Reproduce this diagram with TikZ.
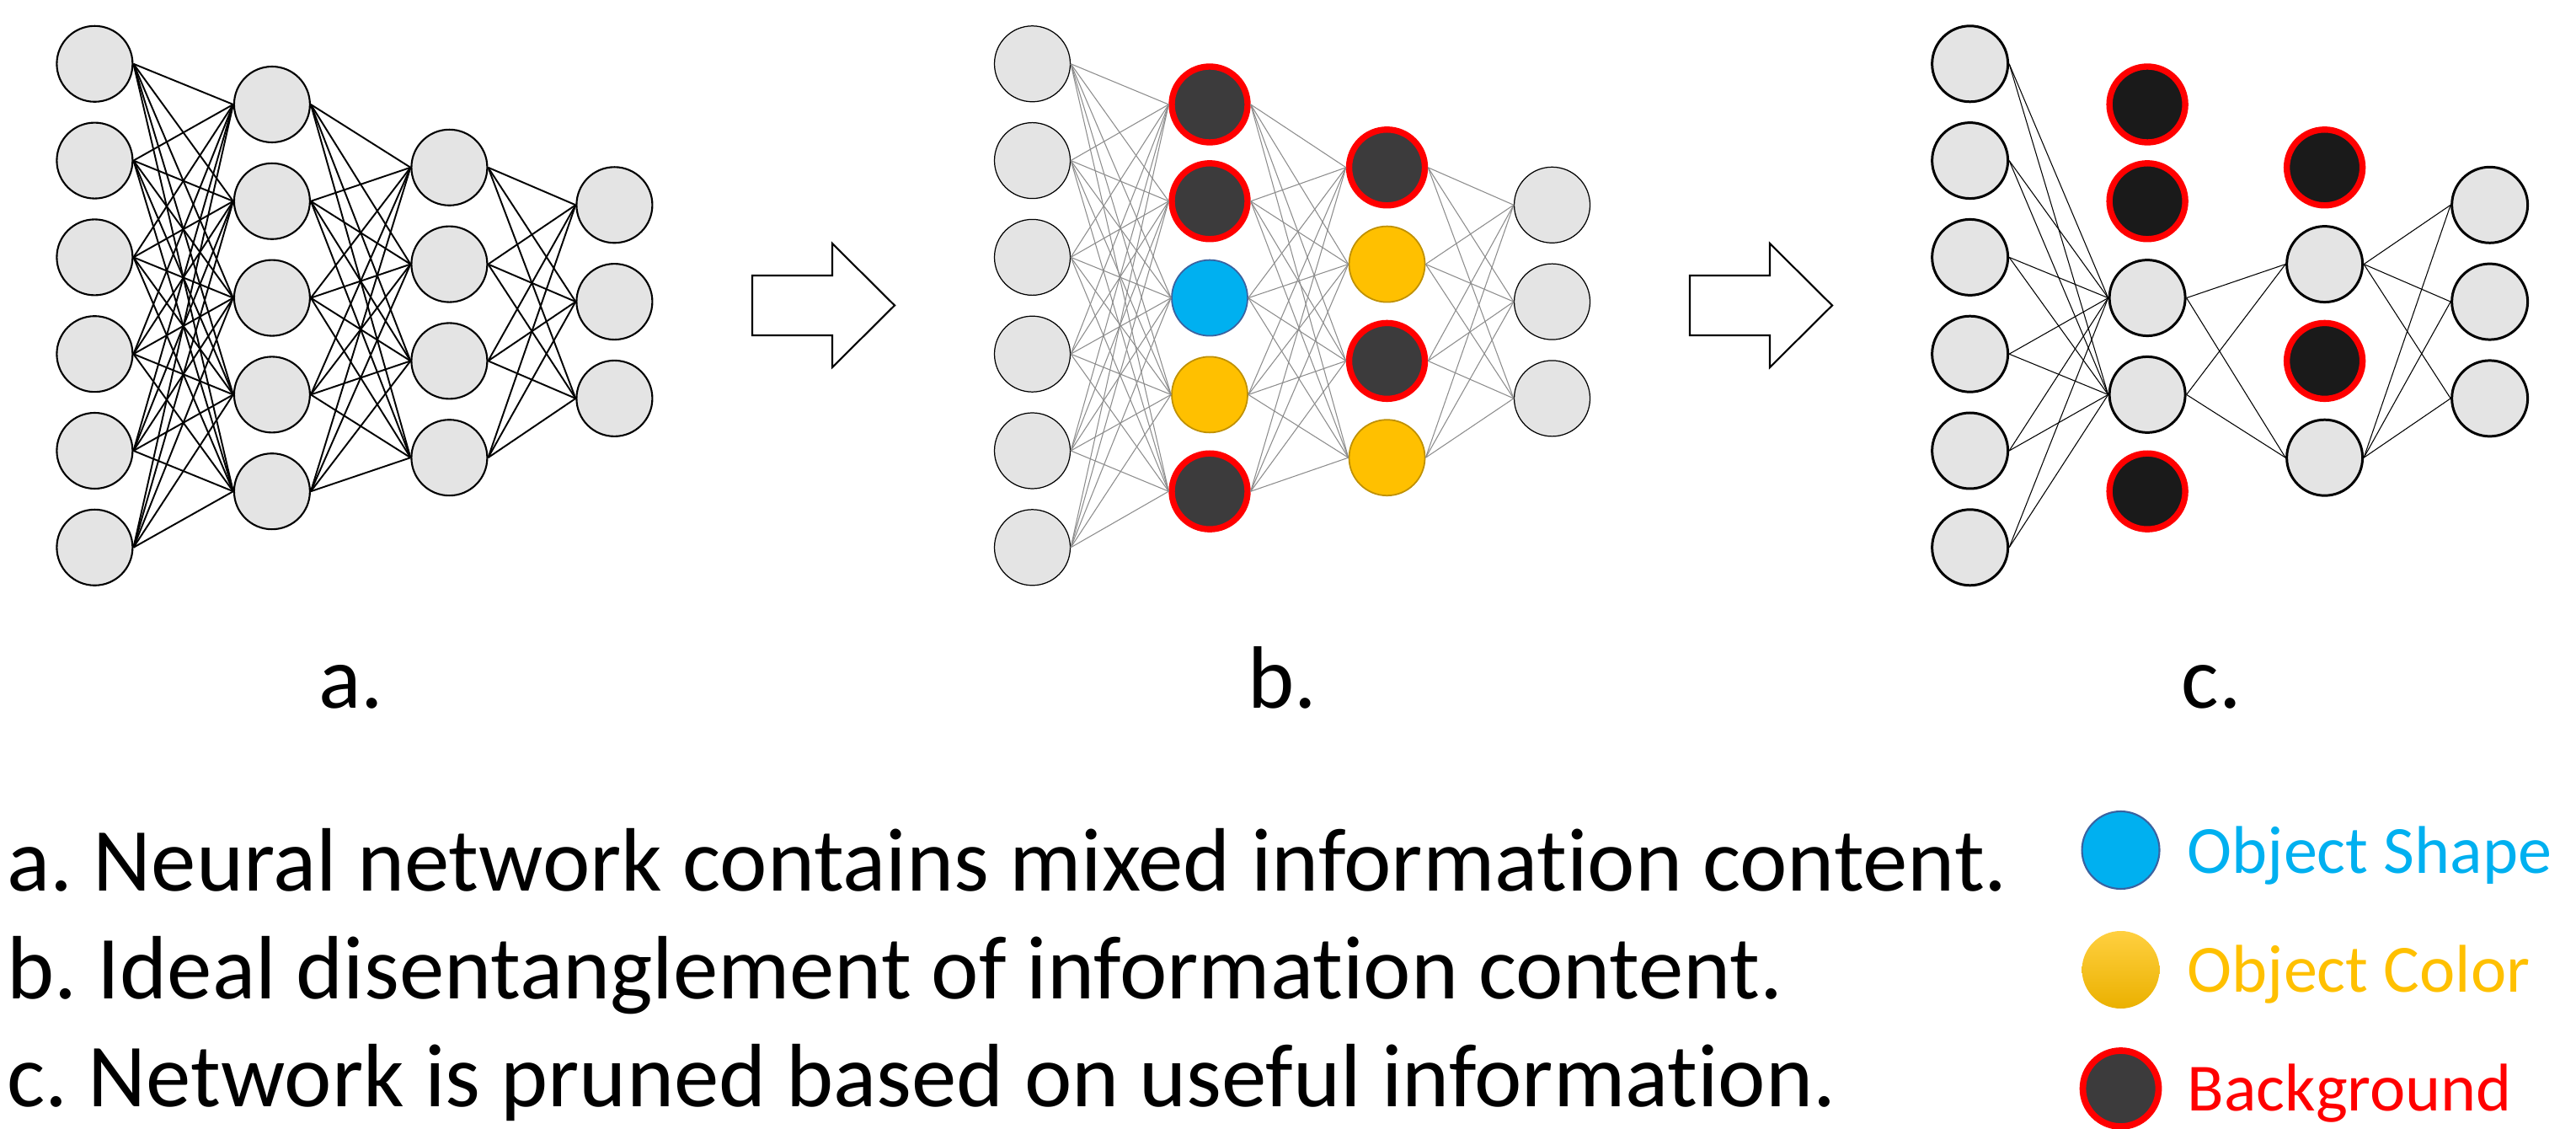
\documentclass[tikz,border=0pt]{standalone}
\usepackage{fontspec}
\setmainfont[Ligatures=NoCommon]{Carlito}
\usepackage{tikz}
\usetikzlibrary{shapes}
\frenchspacing

\definecolor{nfill}{HTML}{E4E4E4}
\definecolor{bgdark}{HTML}{3C3B3C}
\definecolor{bgblack}{HTML}{1A1A1A}
\definecolor{bgred}{HTML}{FF0000}
\definecolor{objblue}{HTML}{00B0F0}
\definecolor{objblueline}{HTML}{3A62A0}
\definecolor{objyellow}{HTML}{FFC000}
\definecolor{objyellowline}{HTML}{BF9000}
\definecolor{linkgray}{HTML}{8C8C8C}

\tikzset{
	neuron/.style={circle,draw=black,fill=nfill,minimum size=0.9cm,inner sep=0pt,line width=0.6pt},
	thinneuron/.style={neuron,line width=0.35pt},
	boldneuron/.style={neuron,line width=0.85pt},
	bgneuron/.style={circle,draw=bgred,fill=bgdark,minimum size=0.9cm,inner sep=0pt,line width=2.1pt},
	bgblackneuron/.style={bgneuron,fill=bgblack},
	shapeneuron/.style={circle,draw=objblueline,fill=objblue,minimum size=0.9cm,inner sep=0pt,line width=0.5pt},
	colneuron/.style={circle,draw=objyellowline,fill=objyellow,minimum size=0.9cm,inner sep=0pt,line width=0.5pt},
	boldlink/.style={black,line width=0.55pt},
	graylink/.style={linkgray,line width=0.3pt},
	thinlink/.style={black,line width=0.3pt},
	bigarrow/.style={draw=black,fill=white,line width=0.6pt,line join=miter},
	caption/.style={anchor=base,inner sep=0pt,font=\fontsize{29.9pt}{36pt}\selectfont},
	textline/.style={anchor=base west,inner sep=0pt,font=\fontsize{30.4pt}{36pt}\selectfont},
	legendtext/.style={anchor=base west,inner sep=0pt,font=\fontsize{22.8pt}{27pt}\selectfont}
}

\begin{document}
\begin{tikzpicture}

	\useasboundingbox (0,0) rectangle (30.58,13.39);

	% network a
	\foreach \i in {1,...,6}
		\node[neuron] (a1-\i) at (1.124,13.780-1.148*\i) {};
	\foreach \i in {1,...,5}
		\node[neuron] (a2-\i) at (3.229,13.298-1.148*\i) {};
	\foreach \i in {1,...,4}
		\node[neuron] (a3-\i) at (5.334,12.550-1.148*\i) {};
	\foreach \i in {1,...,3}
		\node[neuron] (a4-\i) at (7.294,12.105-1.148*\i) {};

	\foreach \i in {1,...,6}
		\foreach \j in {1,...,5}
			\draw[boldlink] (a1-\i.east) -- (a2-\j.west);
	\foreach \i in {1,...,5}
		\foreach \j in {1,...,4}
			\draw[boldlink] (a2-\i.east) -- (a3-\j.west);
	\foreach \i in {1,...,4}
		\foreach \j in {1,...,3}
			\draw[boldlink] (a3-\i.east) -- (a4-\j.west);

	% network b
	\foreach \i in {1,...,6}
		\node[thinneuron] (b1-\i) at (12.255,13.780-1.148*\i) {};
	\foreach \i/\s in {1/bgneuron,2/bgneuron,3/shapeneuron,4/colneuron,5/bgneuron}
		\node[\s] (b2-\i) at (14.360,13.298-1.148*\i) {};
	\foreach \i/\s in {1/bgneuron,2/colneuron,3/bgneuron,4/colneuron}
		\node[\s] (b3-\i) at (16.465,12.550-1.148*\i) {};
	\foreach \i in {1,...,3}
		\node[thinneuron] (b4-\i) at (18.425,12.105-1.148*\i) {};

	\foreach \i in {1,...,6}
		\foreach \j in {1,...,5}
			\draw[graylink] (b1-\i.east) -- (b2-\j.west);
	\foreach \i in {1,...,5}
		\foreach \j in {1,...,4}
			\draw[graylink] (b2-\i.east) -- (b3-\j.west);
	\foreach \i in {1,...,4}
		\foreach \j in {1,...,3}
			\draw[graylink] (b3-\i.east) -- (b4-\j.west);

	% network c
	\foreach \i in {1,...,6}
		\node[boldneuron] (c1-\i) at (23.386,13.780-1.148*\i) {};
	\foreach \i/\s in {1/bgblackneuron,2/bgblackneuron,3/boldneuron,4/boldneuron,5/bgblackneuron}
		\node[\s] (c2-\i) at (25.491,13.298-1.148*\i) {};
	\foreach \i/\s in {1/bgblackneuron,2/boldneuron,3/bgblackneuron,4/boldneuron}
		\node[\s] (c3-\i) at (27.596,12.550-1.148*\i) {};
	\foreach \i in {1,...,3}
		\node[boldneuron] (c4-\i) at (29.556,12.105-1.148*\i) {};

	\foreach \i in {1,...,6}
		\foreach \j in {3,4}
			\draw[thinlink] (c1-\i.east) -- (c2-\j.west);
	\foreach \i in {3,4}
		\foreach \j in {2,4}
			\draw[thinlink] (c2-\i.east) -- (c3-\j.west);
	\foreach \i in {2,4}
		\foreach \j in {1,2,3}
			\draw[thinlink] (c3-\i.east) -- (c4-\j.west);

	% arrows
	\draw[bigarrow] (8.93,9.41) -- (9.88,9.41) -- (9.88,9.03) -- (10.62,9.765)
		-- (9.88,10.50) -- (9.88,10.12) -- (8.93,10.12) -- cycle;
	\draw[bigarrow] (20.06,9.41) -- (21.01,9.41) -- (21.01,9.03) -- (21.75,9.765)
		-- (21.01,10.50) -- (21.01,10.12) -- (20.06,10.12) -- cycle;

	\node[caption] (capa) at (4.17,4.99) {a.};
	\node[caption] (capb) at (15.22,4.99) {b.};
	\node[caption] (capc) at (26.25,4.99) {c.};

	\node[textline] (linea) at (0.08,2.82) {a. Neural network contains mixed information content.};
	\node[textline] (lineb) at (0.08,1.54) {b. Ideal disentanglement of information content.};
	\node[textline] (linec) at (0.08,0.26) {c. Network is pruned based on useful information.};

	% legend
	\node[circle,draw=objblueline,fill=objblue,minimum size=0.92cm,inner sep=0pt,line width=0.6pt] (keyshape) at (25.175,3.30) {};
	\node[circle,top color=objyellow!75!white,middle color=objyellow,bottom color=objyellow!92!black,minimum size=0.92cm,inner sep=0pt] (keycol) at (25.175,1.88) {};
	\node[bgneuron,minimum size=0.9cm,line width=2.2pt] (keybg) at (25.175,0.47) {};

	\node[legendtext,text=objblue] (txtshape) at (25.96,3.03) {Object Shape};
	\node[legendtext,text=objyellow] (txtcol) at (25.96,1.617) {Object Color};
	\node[legendtext,text=bgred] (txtbg) at (25.96,0.207) {Background};

\end{tikzpicture}
\end{document}
